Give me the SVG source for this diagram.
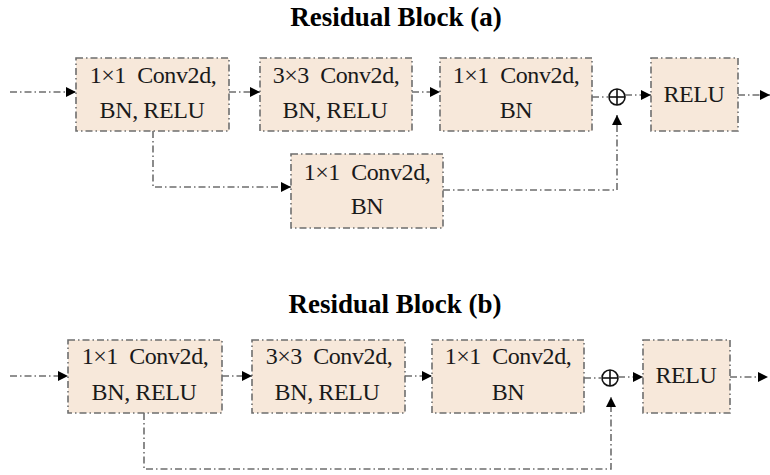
<svg xmlns="http://www.w3.org/2000/svg" width="770" height="475" viewBox="0 0 770 475">
<style>
  .box { fill: #f7e8da; stroke: #6e6e6e; stroke-width: 1.6; stroke-dasharray: 7 3 1.5 3; }
  .t { font-family: "Liberation Serif", "Times New Roman", serif; font-size: 24px; letter-spacing: -0.4px; fill: #1a1a1a; text-anchor: middle; }
  .title { font-family: "Liberation Serif", "Times New Roman", serif; font-size: 27px; font-weight: bold; fill: #000; text-anchor: middle; }
  .c { fill: none; stroke: #6e6e6e; stroke-width: 1.6; stroke-dasharray: 7 3 1.5 3; }
  .plus { fill: none; stroke: #111; stroke-width: 1.6; }
</style>
<defs>
  <marker id="ah" viewBox="0 0 10 10" refX="10" refY="5" markerWidth="11" markerHeight="10" markerUnits="userSpaceOnUse" orient="auto">
    <path d="M0,0 L10,5 L0,10 z" fill="#000"/>
  </marker>
</defs>
<rect width="770" height="475" fill="#fff"/>

<text class="title" x="396" y="26">Residual Block (a)</text>
<text class="title" x="395" y="313">Residual Block (b)</text>

<!-- Block (a) -->
<g id="a-conv1">
  <rect class="box" x="76" y="58" width="153" height="73"/>
  <text class="t" x="153" y="83" xml:space="preserve">1×1  Conv2d,</text>
  <text class="t" x="152" y="118">BN, RELU</text>
</g>
<g id="a-conv2">
  <rect class="box" x="260" y="58" width="152" height="73"/>
  <text class="t" x="336" y="83" xml:space="preserve">3×3  Conv2d,</text>
  <text class="t" x="335" y="118">BN, RELU</text>
</g>
<g id="a-conv3">
  <rect class="box" x="440" y="58" width="152" height="73"/>
  <text class="t" x="516" y="83" xml:space="preserve">1×1  Conv2d,</text>
  <text class="t" x="516" y="118">BN</text>
</g>
<g id="a-relu">
  <rect class="box" x="651" y="58" width="87" height="73"/>
  <text class="t" x="694" y="102">RELU</text>
</g>
<g id="a-short">
  <rect class="box" x="291" y="154" width="152" height="74"/>
  <text class="t" x="367" y="180" xml:space="preserve">1×1  Conv2d,</text>
  <text class="t" x="367" y="214">BN</text>
</g>
<g id="a-add">
  <circle class="plus" cx="617" cy="97" r="8"/>
  <line class="plus" x1="609" y1="97" x2="625" y2="97"/>
  <line class="plus" x1="617" y1="89" x2="617" y2="105"/>
</g>

<!-- Block (b) -->
<g id="b-conv1">
  <rect class="box" x="68" y="340" width="154" height="73"/>
  <text class="t" x="145" y="364" xml:space="preserve">1×1  Conv2d,</text>
  <text class="t" x="144" y="400">BN, RELU</text>
</g>
<g id="b-conv2">
  <rect class="box" x="252" y="340" width="153" height="73"/>
  <text class="t" x="329" y="364" xml:space="preserve">3×3  Conv2d,</text>
  <text class="t" x="327" y="400">BN, RELU</text>
</g>
<g id="b-conv3">
  <rect class="box" x="432" y="340" width="152" height="73"/>
  <text class="t" x="508" y="364" xml:space="preserve">1×1  Conv2d,</text>
  <text class="t" x="508" y="400">BN</text>
</g>
<g id="b-relu">
  <rect class="box" x="643" y="340" width="87" height="73"/>
  <text class="t" x="686" y="383">RELU</text>
</g>
<g id="b-add">
  <circle class="plus" cx="610" cy="378" r="8"/>
  <line class="plus" x1="602" y1="378" x2="618" y2="378"/>
  <line class="plus" x1="610" y1="370" x2="610" y2="386"/>
</g>

<g id="connectors">
  <!-- (a) -->
  <line class="c" x1="10" y1="92" x2="76" y2="92" marker-end="url(#ah)"/>
  <line class="c" x1="229" y1="92" x2="260" y2="92" marker-end="url(#ah)"/>
  <line class="c" x1="412" y1="92" x2="440" y2="92" marker-end="url(#ah)"/>
  <line class="c" x1="592" y1="97" x2="609" y2="97"/>
  <line class="c" x1="625" y1="95" x2="651" y2="95" marker-end="url(#ah)"/>
  <line class="c" x1="738" y1="95" x2="770" y2="95" marker-end="url(#ah)"/>
  <polyline class="c" points="153,131 153,187 291,187" marker-end="url(#ah)"/>
  <polyline class="c" points="443,190 617,190 617,115" marker-end="url(#ah)"/>
  <!-- (b) -->
  <line class="c" x1="10" y1="376" x2="68" y2="376" marker-end="url(#ah)"/>
  <line class="c" x1="222" y1="376" x2="252" y2="376" marker-end="url(#ah)"/>
  <line class="c" x1="405" y1="376" x2="432" y2="376" marker-end="url(#ah)"/>
  <line class="c" x1="584" y1="378" x2="602" y2="378"/>
  <line class="c" x1="618" y1="377" x2="643" y2="377" marker-end="url(#ah)"/>
  <line class="c" x1="730" y1="377" x2="768" y2="377" marker-end="url(#ah)"/>
  <polyline class="c" points="144,413 144,469 611,469 611,397" marker-end="url(#ah)"/>
</g>
</svg>
